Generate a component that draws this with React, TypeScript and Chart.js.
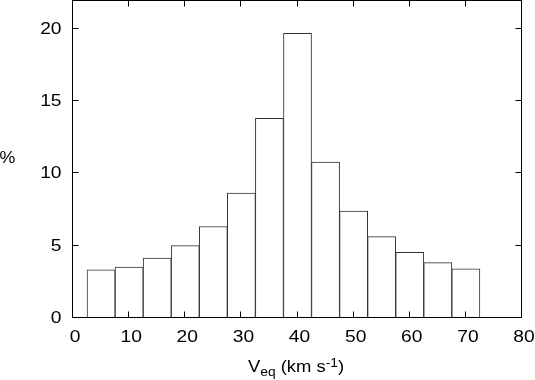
import React, { useEffect, useRef } from "react";
import { Chart, registerables } from "chart.js";

Chart.register(...registerables);

const binCenters = [5, 10, 15, 20, 25, 30, 35, 40, 45, 50, 55, 60, 65, 70];
const percentages = [3.33, 3.53, 4.14, 5.01, 6.33, 8.64, 13.81, 19.7, 10.79, 7.39, 5.63, 4.55, 3.83, 3.4];
const xTickValues = [0, 10, 20, 30, 40, 50, 60, 70, 80];
const yTickValues = [0, 5, 10, 15, 20];
const yAxisTitle = "%";

const FONT = "'Liberation Sans', Arial, Helvetica, sans-serif";
const STRETCH = 1.2;

function drawStretched(
  ctx: CanvasRenderingContext2D,
  text: string,
  x: number,
  y: number,
  font: string,
  align: "left" | "center" | "right",
  baseline: CanvasTextBaseline,
  stretch = STRETCH
) {
  ctx.save();
  ctx.font = font;
  ctx.textAlign = align;
  ctx.textBaseline = baseline;
  ctx.translate(x, y);
  ctx.scale(stretch, 1);
  ctx.fillText(text, 0, 0);
  ctx.restore();
}

const framePlugin = {
  id: "gnuFrame",
  afterDatasetsDraw(chart: any) {
    const { ctx, chartArea, scales } = chart;
    const L = Math.round(chartArea.left) - 0.5;
    const R = Math.round(chartArea.right) - 0.5;
    const T = Math.round(chartArea.top) + 0.5;
    const B = Math.round(chartArea.bottom) - 0.5;
    ctx.save();
    ctx.strokeStyle = "#000";
    ctx.lineWidth = 1;
    ctx.beginPath();
    ctx.rect(L, T, R - L, B - T);
    ctx.stroke();
    const tl = 6;
    ctx.beginPath();
    for (const v of xTickValues) {
      const x = Math.round(scales.x.getPixelForValue(v)) - 0.5;
      ctx.moveTo(x, B);
      ctx.lineTo(x, B - tl);
      ctx.moveTo(x, T);
      ctx.lineTo(x, T + tl);
    }
    for (const v of yTickValues) {
      const y = Math.round(scales.y.getPixelForValue(v)) - 0.5;
      ctx.moveTo(L, y);
      ctx.lineTo(L + tl, y);
      ctx.moveTo(R, y);
      ctx.lineTo(R - tl, y);
    }
    ctx.stroke();

    ctx.fillStyle = "#000";
    const tickFont = `16px ${FONT}`;
    for (const v of xTickValues) {
      const x = scales.x.getPixelForValue(v) + 2;
      drawStretched(ctx, String(v), x, 338, tickFont, "center", "middle");
    }
    for (const v of yTickValues) {
      const y = scales.y.getPixelForValue(v) + 0.5;
      drawStretched(ctx, String(v), 61.5, y, tickFont, "right", "middle");
    }

    // x axis title with subscript and superscript
    const big = `16px ${FONT}`;
    const small = `12px ${FONT}`;
    const ts = 1.15;
    const parts: [string, string, number][] = [
      ["V", big, 0],
      ["eq", small, 4.5],
      [" (km s", big, 0],
      ["-1", small, -5],
      [")", big, 0],
    ];
    let x = 248;
    const baseY = 371.5;
    for (const [t, f, dy] of parts) {
      drawStretched(ctx, t, x, baseY + dy, f, "left", "alphabetic", ts);
      ctx.font = f;
      x += ctx.measureText(t).width * ts;
    }
    drawStretched(ctx, yAxisTitle, -0.5, 158.5, `17px ${FONT}`, "left", "middle", 1.05);
    ctx.restore();
  },
};

export default function App() {
  const ref = useRef<HTMLCanvasElement>(null);
  useEffect(() => {
    if (!ref.current) return;
    const chart = new Chart(ref.current, {
      type: "bar",
      data: {
        datasets: [
          {
            data: binCenters.map((c, i) => ({ x: c, y: percentages[i] })),
            backgroundColor: "#ffffff",
            borderColor: "#333333",
            borderWidth: 1,
            barPercentage: 1,
            categoryPercentage: 1,
          },
        ],
      },
      options: {
        animation: false,
        responsive: false,
        maintainAspectRatio: false,
        layout: { padding: { top: 0, right: 13, left: 0, bottom: 0 } },
        plugins: { legend: { display: false }, tooltip: { enabled: false } },
        scales: {
          x: {
            type: "linear",
            min: 0,
            max: 80,
            offset: false,
            afterFit: (s: any) => {
              s.height = 62;
              s.paddingLeft = 0;
              s.paddingRight = 0;
            },
            afterBuildTicks: (s: any) => {
              s.ticks = xTickValues.map((v) => ({ value: v }));
            },
            grid: { display: false, drawTicks: false, offset: false },
            border: { display: false },
            ticks: { display: false },
          },
          y: {
            type: "linear",
            min: 0,
            max: 22,
            afterFit: (s: any) => {
              s.width = 73;
              s.paddingTop = 0;
              s.paddingBottom = 0;
            },
            afterBuildTicks: (s: any) => {
              s.ticks = yTickValues.map((v) => ({ value: v }));
            },
            grid: { display: false, drawTicks: false },
            border: { display: false },
            ticks: { display: false },
          },
        },
      },
      plugins: [framePlugin],
    } as any);
    return () => chart.destroy();
  }, []);
  return (
    <div style={{ position: "fixed", left: 0, top: 0, width: 535, height: 380, background: "#fff" }}>
      <canvas ref={ref} width={535} height={380} style={{ width: 535, height: 380 }} />
    </div>
  );
}
